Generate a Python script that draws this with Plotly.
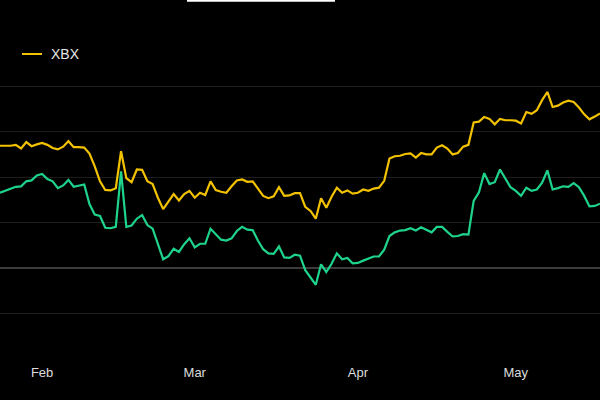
import pandas as pd
import plotly.graph_objects as go

start_date = "2024-01-24"
end_date = "2024-05-17"

xbx = [26.9, 26.9, 26.9, 27.1, 26.3, 27.7, 26.8, 27.2, 27.5, 27.1,
       26.4, 26.1, 26.7, 27.9, 26.6, 26.6, 26.5, 25.2, 22.4, 19.1,
       17.2, 17.1, 17.6, 25.7, 19.8, 18.9, 21.7, 21.6, 19.1, 18.5,
       15.5, 13.0, 14.6, 16.3, 14.9, 16.3, 17.0, 15.5, 16.6, 16.1,
       19.1, 17.2, 16.8, 16.6, 18.0, 19.3, 19.5, 19.0, 19.1, 17.4,
       15.9, 15.4, 15.8, 17.8, 15.9, 16.0, 16.5, 16.5, 13.5, 12.6,
       10.9, 15.4, 13.3, 15.7, 17.7, 16.6, 17.1, 16.4, 16.6, 17.3,
       17.0, 17.5, 17.7, 19.2, 24.1, 24.6, 24.7, 25.1, 25.2, 24.3,
       25.3, 25.0, 25.0, 26.5, 27.0, 26.3, 25.0, 25.3, 26.7, 27.1,
       32.0, 32.2, 33.2, 32.8, 31.6, 32.8, 32.5, 32.5, 32.4, 31.8,
       34.3, 33.9, 34.7, 36.9, 38.7, 35.4, 35.7, 36.4, 36.8, 36.5,
       35.3, 33.8, 32.7, 33.3, 34.0]

other = [16.6, 17.0, 17.4, 17.9, 18.0, 19.1, 19.3, 20.4, 20.7, 19.6,
         19.1, 17.6, 18.2, 19.4, 17.9, 18.2, 18.4, 14.1, 11.8, 11.5,
         8.9, 8.8, 9.1, 21.3, 9.1, 9.4, 10.9, 11.7, 9.5, 8.7,
         5.4, 2.0, 2.7, 4.3, 3.6, 5.3, 6.6, 4.6, 5.4, 5.4,
         8.7, 7.4, 6.3, 6.1, 6.6, 8.2, 9.1, 8.5, 8.4, 6.1,
         4.2, 3.3, 3.2, 4.8, 2.4, 2.3, 3.0, 2.8, -0.4, -2.0,
         -3.6, 0.9, -0.8, 1.0, 3.3, 2.0, 2.3, 1.1, 1.2, 1.7,
         2.1, 2.6, 2.6, 4.1, 7.1, 7.9, 8.3, 8.4, 8.8, 8.3,
         9.0, 8.4, 7.9, 9.1, 9.1, 8.0, 7.0, 7.1, 7.5, 7.4,
         14.8, 16.7, 20.9, 18.5, 18.9, 21.7, 19.8, 17.8, 17.0, 15.9,
         17.7, 17.0, 17.3, 18.8, 21.5, 17.3, 17.6, 18.0, 17.9, 18.7,
         17.8, 15.9, 13.6, 13.7, 14.2]

dates = pd.date_range(start_date, end_date, freq="D")

YELLOW = "#F2C200"
GREEN = "#1ED48C"

fig = go.Figure()
fig.add_trace(go.Scatter(x=dates, y=other, mode="lines", name="",
                         line=dict(color=GREEN, width=2.2), showlegend=False,
                         hoverinfo="skip"))
fig.add_trace(go.Scatter(x=dates, y=xbx, mode="lines", name="XBX",
                         line=dict(color=YELLOW, width=2.2), showlegend=False))

# legend drawn manually (short swatch)
fig.add_shape(type="line", xref="paper", yref="paper",
              x0=22/600, x1=42/600, y0=(360-54)/320, y1=(360-54)/320,
              line=dict(color=YELLOW, width=2))
fig.add_annotation(text="XBX", xref="paper", yref="paper",
                   x=49/600, y=(360-54)/320, xanchor="left", yanchor="middle",
                   showarrow=False, font=dict(color="#E6E6E6", size=14,
                                               family="Liberation Sans, Arial, sans-serif"))
# white bar at top (cropped element)
fig.add_shape(type="rect", xref="paper", yref="paper",
              x0=187/600, x1=335/600, y0=(360-1.8)/320, y1=(360+2)/320,
              fillcolor="#FFFFFF", line=dict(width=0))

fig.update_layout(
    width=600, height=400,
    paper_bgcolor="#000000", plot_bgcolor="#000000",
    margin=dict(l=0, r=0, t=40, b=40),
    font=dict(family="Liberation Sans, Arial, sans-serif", color="#DDDDDD", size=13),
    xaxis=dict(range=[dates[0], dates[-1]], showgrid=False, zeroline=False,
               tickformat="%b", dtick="M1", tick0="2024-02-01",
               ticks="", showline=False, ticklabelstandoff=3,
               tickfont=dict(size=13, color="#DDDDDD")),
    yaxis=dict(range=[-20.1, 50.1], dtick=10, showticklabels=False,
               gridcolor="#1C1C1C", gridwidth=1,
               zeroline=True, zerolinecolor="#3C3C3C", zerolinewidth=2,
               showline=False),
)

fig.write_html("out.html", config={"displayModeBar": False},
               post_script="document.body.style.margin='0';document.body.style.background='#000';")
